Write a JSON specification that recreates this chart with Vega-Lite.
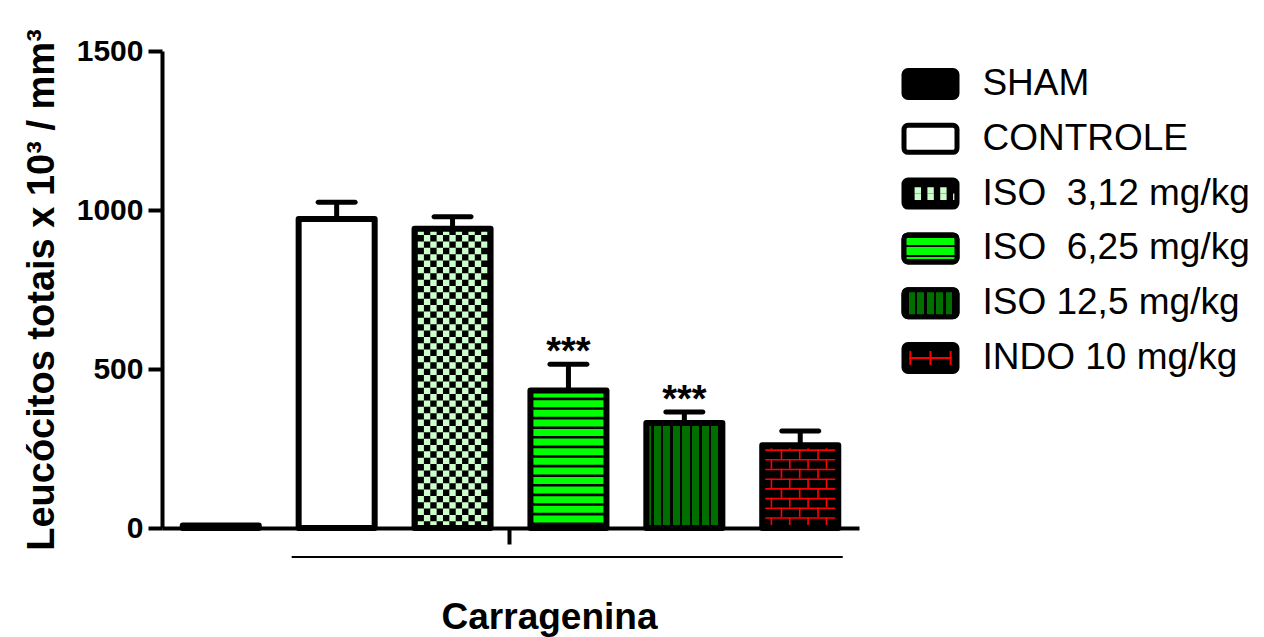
{
  "$schema": "https://vega.github.io/schema/vega-lite/v6.json",
  "background": "white",
  "padding": {"left": 23, "top": 28, "right": 5, "bottom": 5},
  "config": {"font": "Liberation Sans", "view": {"stroke": null}},
  "datasets": {
    "bars": [
      {"grp": "SHAM", "label": "SHAM", "mean": 8, "upper": null, "sig": ""},
      {"grp": "CONTROLE", "label": "CONTROLE", "mean": 972, "upper": 1024, "sig": ""},
      {"grp": "ISO3", "label": "ISO\u00a0 3,12 mg/kg", "mean": 941, "upper": 979, "sig": ""},
      {"grp": "ISO6", "label": "ISO\u00a0 6,25 mg/kg", "mean": 432, "upper": 515, "sig": "***"},
      {"grp": "ISO12", "label": "ISO 12,5 mg/kg", "mean": 330, "upper": 365, "sig": "***"},
      {"grp": "INDO", "label": "INDO 10 mg/kg", "mean": 260, "upper": 305, "sig": ""}
    ],
    "group": [
      {"start": "CONTROLE", "end": "INDO", "level": -91}
    ]
  },
  "bounds": "flush",
  "spacing": 45,
  "hconcat": [
    {
      "width": 697,
      "height": 477,
      "data": {"name": "bars"},
      "encoding": {
        "x": {"field": "grp", "type": "nominal", "sort": null,
          "scale": {"domain": ["SHAM", "CONTROLE", "ISO3", "ISO6", "ISO12", "INDO"], "paddingInner": 0.344, "paddingOuter": 0.179},
          "axis": {"labels": false, "ticks": true, "values": ["ISO6"], "bandPosition": -0.276, "tickSize": 16, "tickWidth": 4, "tickColor": "black",
            "domainWidth": 4, "domainColor": "black", "title": "Carragenina", "titleFontSize": 37, "titleFontWeight": "bold", "titleColor": "black", "titlePadding": 53, "titleX": 387}},
        "y": {"field": "mean", "type": "quantitative",
          "scale": {"domain": [0, 1500], "nice": false},
          "axis": {"title": "Leucócitos totais x 10³ / mm³", "titleFontSize": 38, "titleFontWeight": "bold", "titleColor": "black", "titlePadding": 15,
            "values": [0, 500, 1000, 1500], "format": "d", "grid": false, "labelFontSize": 30, "labelFontWeight": "bold", "labelColor": "black", "labelPadding": 5,
            "tickSize": 14, "tickWidth": 4, "tickColor": "black", "domainWidth": 4, "domainColor": "black"}}
      },
      "layer": [
        {
          "mark": {"type": "bar", "strokeWidth": 0},
          "encoding": {
            "fill": {"field": "grp", "type": "nominal", "legend": null,
              "scale": {"domain": ["SHAM", "CONTROLE", "ISO3", "ISO6", "ISO12", "INDO"], "range": ["#000000", "#ffffff", "#000000", "#000000", "#006f00", "#000000"]}}
          }
        },
        {
          "transform": [{"filter": "datum.grp === 'ISO12'"}],
          "mark": {"type": "bar", "strokeWidth": 0, "fill": {"gradient": "linear", "x1": 0, "y1": 0, "x2": 1, "y2": 0, "stops": [
            {"offset": 0, "color": "#006f00"}, {"offset": 0.0665, "color": "#006f00"}, {"offset": 0.0665, "color": "#000000"}, {"offset": 0.0995, "color": "#000000"},
            {"offset": 0.0995, "color": "#006f00"}, {"offset": 0.1919, "color": "#006f00"}, {"offset": 0.1919, "color": "#000000"}, {"offset": 0.2249, "color": "#000000"},
            {"offset": 0.2249, "color": "#006f00"}, {"offset": 0.3173, "color": "#006f00"}, {"offset": 0.3173, "color": "#000000"}, {"offset": 0.3503, "color": "#000000"},
            {"offset": 0.3503, "color": "#006f00"}, {"offset": 0.4427, "color": "#006f00"}, {"offset": 0.4427, "color": "#000000"}, {"offset": 0.4757, "color": "#000000"},
            {"offset": 0.4757, "color": "#006f00"}, {"offset": 0.5681, "color": "#006f00"}, {"offset": 0.5681, "color": "#000000"}, {"offset": 0.6011, "color": "#000000"},
            {"offset": 0.6011, "color": "#006f00"}, {"offset": 0.6935, "color": "#006f00"}, {"offset": 0.6935, "color": "#000000"}, {"offset": 0.7265, "color": "#000000"},
            {"offset": 0.7265, "color": "#006f00"}, {"offset": 0.8189, "color": "#006f00"}, {"offset": 0.8189, "color": "#000000"}, {"offset": 0.8519, "color": "#000000"},
            {"offset": 0.8519, "color": "#006f00"}, {"offset": 0.9443, "color": "#006f00"}, {"offset": 0.9443, "color": "#000000"}, {"offset": 1, "color": "#000000"}
          ]}}
        },
        {
          "transform": [{"filter": "datum.grp === 'ISO6'"}],
          "mark": {"type": "rule", "stroke": "#00ff00", "strokeWidth": 76, "strokeDash": [7, 2.6], "strokeDashOffset": 0},
          "encoding": {"y2": {"datum": 0}}
        },
        {
          "transform": [{"filter": "datum.grp === 'INDO'"}],
          "mark": {"type": "rule", "stroke": "#ff0000", "strokeWidth": 76, "strokeDash": [1.6, 8.1], "strokeDashOffset": 5.7},
          "encoding": {"y2": {"datum": 0}}
        },
        {"transform": [{"filter": "datum.grp === 'INDO'"}], "mark": {"type": "rule", "stroke": "#ff0000", "strokeWidth": 1.6, "strokeDash": [9.7, 9.7], "strokeDashOffset": 15.4},
          "encoding": {"x": {"field": "grp", "type": "nominal", "sort": null, "bandPosition": 0.253}, "y2": {"datum": 0}}},
        {"transform": [{"filter": "datum.grp === 'INDO'"}], "mark": {"type": "rule", "stroke": "#ff0000", "strokeWidth": 1.6, "strokeDash": [9.7, 9.7], "strokeDashOffset": 15.4},
          "encoding": {"x": {"field": "grp", "type": "nominal", "sort": null, "bandPosition": 0.493}, "y2": {"datum": 0}}},
        {"transform": [{"filter": "datum.grp === 'INDO'"}], "mark": {"type": "rule", "stroke": "#ff0000", "strokeWidth": 1.6, "strokeDash": [9.7, 9.7], "strokeDashOffset": 15.4},
          "encoding": {"x": {"field": "grp", "type": "nominal", "sort": null, "bandPosition": 0.734}, "y2": {"datum": 0}}},
        {"transform": [{"filter": "datum.grp === 'INDO'"}], "mark": {"type": "rule", "stroke": "#ff0000", "strokeWidth": 1.6, "strokeDash": [9.7, 9.7], "strokeDashOffset": 5.7},
          "encoding": {"x": {"field": "grp", "type": "nominal", "sort": null, "bandPosition": 0.121}, "y2": {"datum": 0}}},
        {"transform": [{"filter": "datum.grp === 'INDO'"}], "mark": {"type": "rule", "stroke": "#ff0000", "strokeWidth": 1.6, "strokeDash": [9.7, 9.7], "strokeDashOffset": 5.7},
          "encoding": {"x": {"field": "grp", "type": "nominal", "sort": null, "bandPosition": 0.362}, "y2": {"datum": 0}}},
        {"transform": [{"filter": "datum.grp === 'INDO'"}], "mark": {"type": "rule", "stroke": "#ff0000", "strokeWidth": 1.6, "strokeDash": [9.7, 9.7], "strokeDashOffset": 5.7},
          "encoding": {"x": {"field": "grp", "type": "nominal", "sort": null, "bandPosition": 0.603}, "y2": {"datum": 0}}},
        {"transform": [{"filter": "datum.grp === 'INDO'"}], "mark": {"type": "rule", "stroke": "#ff0000", "strokeWidth": 1.6, "strokeDash": [9.7, 9.7], "strokeDashOffset": 5.7},
          "encoding": {"x": {"field": "grp", "type": "nominal", "sort": null, "bandPosition": 0.845}, "y2": {"datum": 0}}},
        {"transform": [{"filter": "datum.grp === 'ISO3'"}], "mark": {"type": "rule", "stroke": "#ccffcc", "strokeWidth": 6.36, "strokeDash": [6.36, 6.36], "strokeDashOffset": 0},
          "encoding": {"x": {"field": "grp", "type": "nominal", "sort": null, "bandPosition": 0.0813}, "y2": {"datum": 0}}},
        {"transform": [{"filter": "datum.grp === 'ISO3'"}], "mark": {"type": "rule", "stroke": "#ccffcc", "strokeWidth": 6.36, "strokeDash": [6.36, 6.36], "strokeDashOffset": 6.36},
          "encoding": {"x": {"field": "grp", "type": "nominal", "sort": null, "bandPosition": 0.1650}, "y2": {"datum": 0}}},
        {"transform": [{"filter": "datum.grp === 'ISO3'"}], "mark": {"type": "rule", "stroke": "#ccffcc", "strokeWidth": 6.36, "strokeDash": [6.36, 6.36], "strokeDashOffset": 0},
          "encoding": {"x": {"field": "grp", "type": "nominal", "sort": null, "bandPosition": 0.2487}, "y2": {"datum": 0}}},
        {"transform": [{"filter": "datum.grp === 'ISO3'"}], "mark": {"type": "rule", "stroke": "#ccffcc", "strokeWidth": 6.36, "strokeDash": [6.36, 6.36], "strokeDashOffset": 6.36},
          "encoding": {"x": {"field": "grp", "type": "nominal", "sort": null, "bandPosition": 0.3324}, "y2": {"datum": 0}}},
        {"transform": [{"filter": "datum.grp === 'ISO3'"}], "mark": {"type": "rule", "stroke": "#ccffcc", "strokeWidth": 6.36, "strokeDash": [6.36, 6.36], "strokeDashOffset": 0},
          "encoding": {"x": {"field": "grp", "type": "nominal", "sort": null, "bandPosition": 0.4161}, "y2": {"datum": 0}}},
        {"transform": [{"filter": "datum.grp === 'ISO3'"}], "mark": {"type": "rule", "stroke": "#ccffcc", "strokeWidth": 6.36, "strokeDash": [6.36, 6.36], "strokeDashOffset": 6.36},
          "encoding": {"x": {"field": "grp", "type": "nominal", "sort": null, "bandPosition": 0.4997}, "y2": {"datum": 0}}},
        {"transform": [{"filter": "datum.grp === 'ISO3'"}], "mark": {"type": "rule", "stroke": "#ccffcc", "strokeWidth": 6.36, "strokeDash": [6.36, 6.36], "strokeDashOffset": 0},
          "encoding": {"x": {"field": "grp", "type": "nominal", "sort": null, "bandPosition": 0.5834}, "y2": {"datum": 0}}},
        {"transform": [{"filter": "datum.grp === 'ISO3'"}], "mark": {"type": "rule", "stroke": "#ccffcc", "strokeWidth": 6.36, "strokeDash": [6.36, 6.36], "strokeDashOffset": 6.36},
          "encoding": {"x": {"field": "grp", "type": "nominal", "sort": null, "bandPosition": 0.6671}, "y2": {"datum": 0}}},
        {"transform": [{"filter": "datum.grp === 'ISO3'"}], "mark": {"type": "rule", "stroke": "#ccffcc", "strokeWidth": 6.36, "strokeDash": [6.36, 6.36], "strokeDashOffset": 0},
          "encoding": {"x": {"field": "grp", "type": "nominal", "sort": null, "bandPosition": 0.7508}, "y2": {"datum": 0}}},
        {"transform": [{"filter": "datum.grp === 'ISO3'"}], "mark": {"type": "rule", "stroke": "#ccffcc", "strokeWidth": 6.36, "strokeDash": [6.36, 6.36], "strokeDashOffset": 6.36},
          "encoding": {"x": {"field": "grp", "type": "nominal", "sort": null, "bandPosition": 0.8345}, "y2": {"datum": 0}}},
        {"transform": [{"filter": "datum.grp === 'ISO3'"}], "mark": {"type": "rule", "stroke": "#ccffcc", "strokeWidth": 6.36, "strokeDash": [6.36, 6.36], "strokeDashOffset": 0},
          "encoding": {"x": {"field": "grp", "type": "nominal", "sort": null, "bandPosition": 0.9182}, "y2": {"datum": 0}}},
        {
          "mark": {"type": "bar", "fill": null, "fillOpacity": 0, "stroke": "#000000", "strokeWidth": 6, "strokeJoin": "round"}
        },
        {
          "transform": [{"filter": "datum.upper != null"}],
          "mark": {"type": "rule", "stroke": "#000000", "strokeWidth": 5},
          "encoding": {"y2": {"field": "upper"}}
        },
        {
          "transform": [{"filter": "datum.upper != null"}],
          "mark": {"type": "tick", "color": "#000000", "opacity": 1, "size": 42, "thickness": 5, "cornerRadius": 2.5},
          "encoding": {"y": {"field": "upper", "type": "quantitative"}}
        },
        {
          "mark": {"type": "text", "fontSize": 38, "fontWeight": "bold", "baseline": "alphabetic", "align": "center", "color": "#000000", "dy": 0},
          "encoding": {"y": {"field": "upper", "type": "quantitative"}, "text": {"field": "sig"}}
        },
        {
          "data": {"name": "group"},
          "mark": {"type": "rule", "stroke": "#000000", "strokeWidth": 2, "xOffset": -45, "x2Offset": 42.5},
          "encoding": {
            "x": {"field": "start", "type": "nominal", "sort": null},
            "x2": {"field": "end"},
            "y": {"field": "level", "type": "quantitative"},
            "y2": {"field": "level"}
          }
        }
      ]
    },
    {
      "width": 53,
      "height": 340,
      "data": {"name": "bars"},
      "encoding": {
        "y": {"field": "grp", "type": "nominal", "sort": null,
          "scale": {"domain": ["SHAM", "CONTROLE", "ISO3", "ISO6", "ISO12", "INDO"], "paddingInner": 0.507, "paddingOuter": 0.356},
          "axis": null}
      },
      "layer": [
        {
          "mark": {"type": "bar", "stroke": "#000000", "strokeWidth": 5, "cornerRadius": 4},
          "encoding": {
            "x": {"datum": 0, "type": "quantitative", "scale": {"domain": [0, 1]}, "axis": null},
            "x2": {"datum": 1},
            "fill": {"field": "grp", "type": "nominal", "legend": null,
              "scale": {"domain": ["SHAM", "CONTROLE", "ISO3", "ISO6", "ISO12", "INDO"], "range": ["#000000", "#ffffff", "#000000", "#000000", "#006f00", "#000000"]}}
          }
        },
        {
          "transform": [{"filter": "datum.grp === 'ISO3'"}],
          "mark": {"type": "rule", "stroke": "#ccffcc", "strokeWidth": 6.4, "strokeDash": [6.4, 6.4], "strokeDashOffset": 0, "yOffset": -3.2, "y2Offset": -3.2},
          "encoding": {"x": {"datum": 0.2, "type": "quantitative", "axis": null}, "x2": {"datum": 0.83}, "y2": {"field": "grp"}}
        },
        {
          "transform": [{"filter": "datum.grp === 'ISO3'"}],
          "mark": {"type": "rule", "stroke": "#ccffcc", "strokeWidth": 6.4, "strokeDash": [6.4, 6.4], "strokeDashOffset": 6.4, "yOffset": 3.2, "y2Offset": 3.2},
          "encoding": {"x": {"datum": 0.08, "type": "quantitative", "axis": null}, "x2": {"datum": 0.95}, "y2": {"field": "grp"}}
        },
        {
          "transform": [{"filter": "datum.grp === 'ISO6'"}],
          "mark": {"type": "bar", "stroke": "#000000", "strokeWidth": 5, "cornerRadius": 4, "fill": {"gradient": "linear", "x1": 0, "y1": 0, "x2": 0, "y2": 1, "stops": [
            {"offset": 0, "color": "#000000"}, {"offset": 0.12, "color": "#000000"}, {"offset": 0.12, "color": "#00ff00"}, {"offset": 0.38, "color": "#00ff00"},
            {"offset": 0.38, "color": "#000000"}, {"offset": 0.46, "color": "#000000"}, {"offset": 0.46, "color": "#00ff00"}, {"offset": 0.74, "color": "#00ff00"},
            {"offset": 0.74, "color": "#000000"}, {"offset": 0.8, "color": "#000000"}, {"offset": 0.8, "color": "#00ff00"}, {"offset": 0.88, "color": "#00ff00"},
            {"offset": 0.88, "color": "#000000"}, {"offset": 1, "color": "#000000"}]}},
          "encoding": {"x": {"datum": 0, "type": "quantitative", "axis": null}, "x2": {"datum": 1}}
        },
        {
          "transform": [{"filter": "datum.grp === 'ISO12'"}],
          "mark": {"type": "bar", "stroke": "#000000", "strokeWidth": 5, "cornerRadius": 4, "fill": {"gradient": "linear", "x1": 0, "y1": 0, "x2": 1, "y2": 0, "stops": [
            {"offset": 0, "color": "#000000"}, {"offset": 0.1, "color": "#000000"}, {"offset": 0.1, "color": "#006f00"}, {"offset": 0.2, "color": "#006f00"},
            {"offset": 0.2, "color": "#000000"}, {"offset": 0.25, "color": "#000000"}, {"offset": 0.25, "color": "#006f00"}, {"offset": 0.38, "color": "#006f00"},
            {"offset": 0.38, "color": "#000000"}, {"offset": 0.43, "color": "#000000"}, {"offset": 0.43, "color": "#006f00"}, {"offset": 0.56, "color": "#006f00"},
            {"offset": 0.56, "color": "#000000"}, {"offset": 0.61, "color": "#000000"}, {"offset": 0.61, "color": "#006f00"}, {"offset": 0.74, "color": "#006f00"},
            {"offset": 0.74, "color": "#000000"}, {"offset": 0.79, "color": "#000000"}, {"offset": 0.79, "color": "#006f00"}, {"offset": 0.9, "color": "#006f00"},
            {"offset": 0.9, "color": "#000000"}, {"offset": 1, "color": "#000000"}]}},
          "encoding": {"x": {"datum": 0, "type": "quantitative", "axis": null}, "x2": {"datum": 1}}
        },
        {
          "transform": [{"filter": "datum.grp === 'INDO'"}],
          "mark": {"type": "rule", "stroke": "#ff0000", "strokeWidth": 2},
          "encoding": {"x": {"datum": 0.1, "type": "quantitative", "axis": null}, "x2": {"datum": 0.9}, "y2": {"field": "grp"}}
        },
        {
          "transform": [{"filter": "datum.grp === 'INDO'"}],
          "mark": {"type": "tick", "color": "#ff0000", "opacity": 1, "size": 14, "thickness": 2},
          "encoding": {"x": {"datum": 0.12, "type": "quantitative", "axis": null}}
        },
        {
          "transform": [{"filter": "datum.grp === 'INDO'"}],
          "mark": {"type": "tick", "color": "#ff0000", "opacity": 1, "size": 14, "thickness": 2},
          "encoding": {"x": {"datum": 0.5, "type": "quantitative", "axis": null}}
        },
        {
          "transform": [{"filter": "datum.grp === 'INDO'"}],
          "mark": {"type": "tick", "color": "#ff0000", "opacity": 1, "size": 14, "thickness": 2},
          "encoding": {"x": {"datum": 0.88, "type": "quantitative", "axis": null}}
        },
        {
          "mark": {"type": "text", "align": "left", "baseline": "middle", "fontSize": 37, "color": "#000000"},
          "encoding": {"x": {"datum": 1.48, "type": "quantitative", "axis": null}, "text": {"field": "label"}}
        }
      ]
    }
  ]
}
